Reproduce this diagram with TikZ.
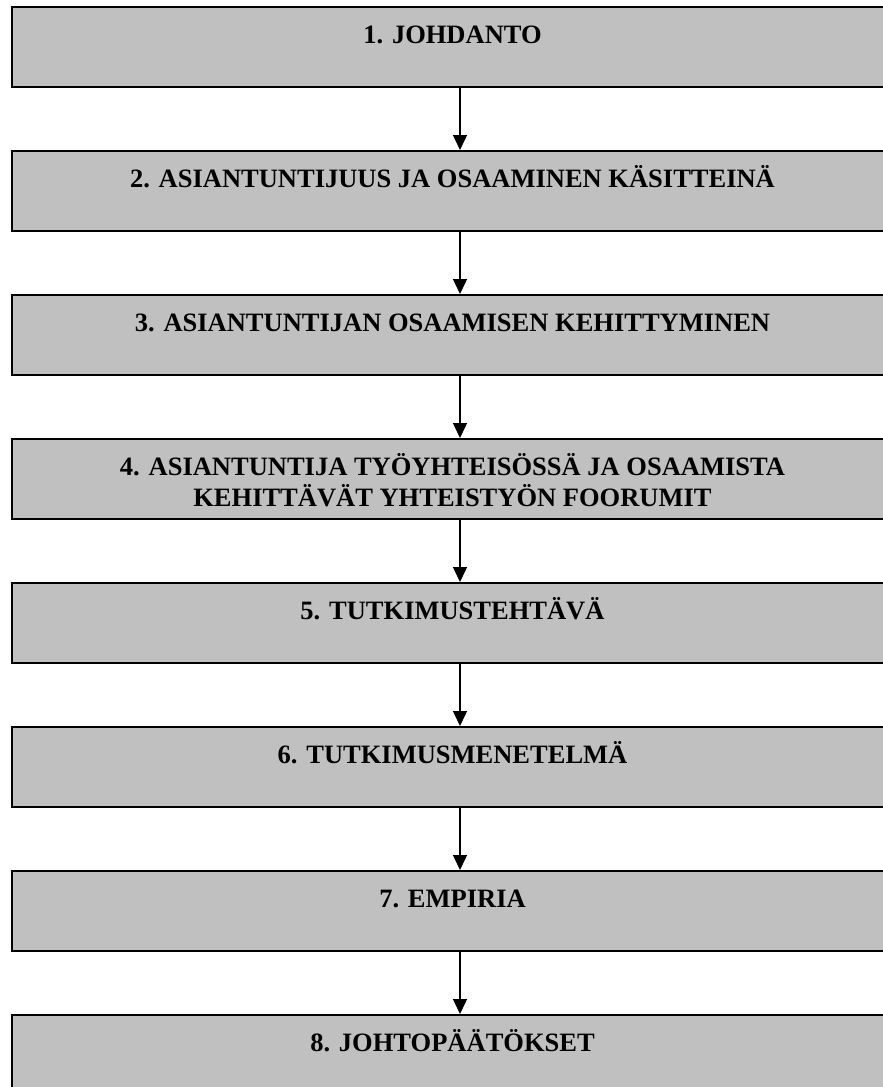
\documentclass[tikz,border=0pt]{standalone}
\usepackage{fontspec}
\setmainfont{Liberation Serif}
\usetikzlibrary{arrows.meta}
\definecolor{boxgray}{HTML}{C0C0C0}
\tikzset{
  x=1pt, y=-1pt,
  stage/.style={draw=black, line width=2pt, fill=boxgray, anchor=north,
    minimum width=881pt, inner sep=0pt, align=center,
    font=\fontsize{26.5}{31}\selectfont\bfseries},
  flow/.style={line width=1.4pt, -{Triangle[length=15pt,width=14pt]}}
}
% one-line and two-line stage labels, 80pt tall with the first baseline 36pt below the top
\newcommand{\oneline}[1]{\rule[-44pt]{0pt}{80pt}#1}
\newcommand{\twolines}[2]{\rule{0pt}{36pt}#1\\#2\rule[-13pt]{0pt}{13pt}}
\begin{document}
\begin{tikzpicture}
\useasboundingbox (0,0) rectangle (883,1087);
\clip (0,0) rectangle (883,1087);
\coordinate (spine) at (460,0);
\node[stage] (b1) at (452.5,6)    {\oneline{1. JOHDANTO}};
\node[stage] (b2) at (452.5,150)  {\oneline{2. ASIANTUNTIJUUS JA OSAAMINEN KÄSITTEINÄ}};
\node[stage] (b3) at (452.5,294)  {\oneline{3. ASIANTUNTIJAN OSAAMISEN KEHITTYMINEN}};
\node[stage] (b4) at (452.5,438)  {\twolines{4. ASIANTUNTIJA TYÖYHTEISÖSSÄ JA OSAAMISTA}{KEHITTÄVÄT YHTEISTYÖN FOORUMIT}};
\node[stage] (b5) at (452.5,582)  {\oneline{5. TUTKIMUSTEHTÄVÄ}};
\node[stage] (b6) at (452.5,726)  {\oneline{6. TUTKIMUSMENETELMÄ}};
\node[stage] (b7) at (452.5,870)  {\oneline{7. EMPIRIA}};
\node[stage] (b8) at (452.5,1014) {\oneline{8. JOHTOPÄÄTÖKSET}};
\foreach \a/\b in {b1/b2,b2/b3,b3/b4,b4/b5,b5/b6,b6/b7,b7/b8}
  \draw[flow] (\a.south -| spine) -- (\b.north -| spine);
\end{tikzpicture}
\end{document}
